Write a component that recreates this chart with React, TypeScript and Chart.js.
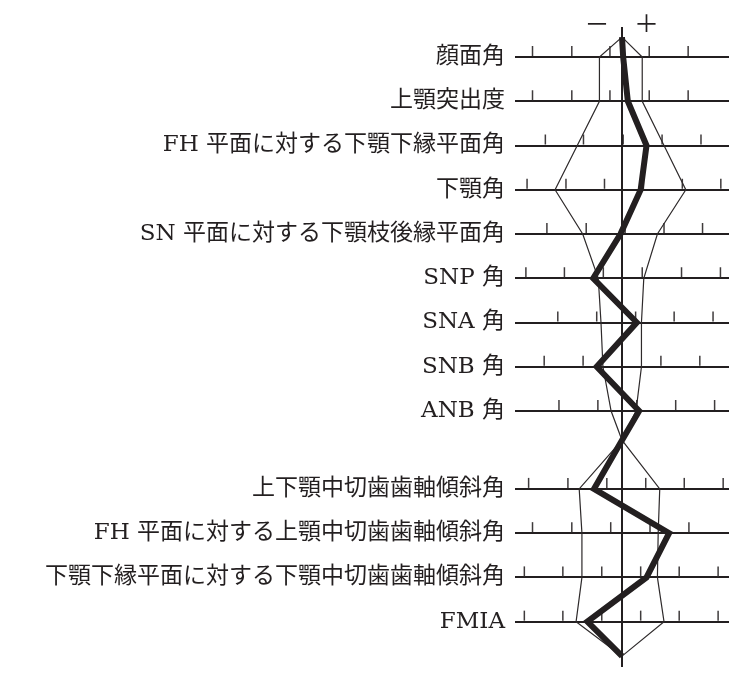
import React, { useEffect, useRef } from 'react';
import { Chart, registerables } from 'chart.js';

Chart.register(...registerables);

// one row per measurement, top to bottom
const rowLabels = [
  '顔面角',
  '上顎突出度',
  'FH 平面に対する下顎下縁平面角',
  '下顎角',
  'SN 平面に対する下顎枝後縁平面角',
  'SNP 角',
  'SNA 角',
  'SNB 角',
  'ANB 角',
  '上下顎中切歯歯軸傾斜角',
  'FH 平面に対する上顎中切歯歯軸傾斜角',
  '下顎下縁平面に対する下顎中切歯歯軸傾斜角',
  'FMIA',
];
const rowPos = [0, 1, 2, 3, 4, 5, 6, 7, 8, 9.76, 10.76, 11.76, 12.76];

// where the polygons close on the mean line (top, between groups, bottom)
const anchorPos = [-0.45, 8.66, 13.54];

// offsets from the mean, in tick units
const sdMinus = [-0.58, -0.58, -1.15, -1.72, -1.01, -0.61, -0.54, -0.49, -0.28, -1.1, -1.03, -1.03, -1.18];
const sdPlus = [0.52, 0.52, 1.08, 1.64, 0.91, 0.56, 0.5, 0.5, 0.36, 0.97, 0.93, 0.91, 1.08];
const patient = [0.03, 0.15, 0.63, 0.48, -0.04, -0.74, 0.38, -0.65, 0.44, -0.72, 1.21, 0.63, -0.89];

// scale marks on each row
const rowTicks = [
  [-2.3, -1.29, -0.31, 0.7, 1.7],
  [-2.3, -1.29, -0.31, 0.7, 1.7],
  [-1.97, -0.99, 0.03, 1.03, 2.03],
  [-2.44, -1.44, -0.45, 0.55, 1.55, 2.54],
  [-1.93, -0.92, 0.08, 1.08, 2.07],
  [-2.47, -1.48, -0.48, 0.52, 1.53, 2.53],
  [-1.65, -0.65, 0.35, 1.34, 2.34],
  [-2.0, -1.0, 0, 1.0, 2.0],
  [-1.62, -0.62, 0.38, 1.38, 2.38],
  [-2.4, -1.39, -0.39, 0.61, 1.6, 2.6],
  [-2.3, -1.29, -0.29, 0.72, 1.72],
  [-2.51, -1.52, -0.52, 0.48, 1.47, 2.47],
  [-2.51, -1.52, -0.52, 0.48, 1.47, 2.47],
];

const signLabels = ['－', '＋'];
const signPos = [-0.64, 0.63];

// the mean line runs a little past both anchors
const meanLine = [-0.68, 13.785];

const X_MIN = -2.75;
const X_MAX = 2.75;
const Y_MIN = -0.565;
const Y_MAX = 13.785;

const INK = '#231f20';
const FONT = '"DejaVu Serif", "Noto Sans CJK JP", serif';

// top anchor, first group, middle anchor, second group, bottom anchor
function polygon(vals: number[]) {
  const pts = [{ x: 0, y: anchorPos[0] }];
  vals.forEach((v, i) => {
    pts.push({ x: v, y: rowPos[i] });
    if (i === 8) pts.push({ x: 0, y: anchorPos[1] });
  });
  pts.push({ x: 0, y: anchorPos[2] });
  return pts;
}

const rowTickPlugin = {
  id: 'rowTicks',
  beforeDatasetsDraw(chart: any) {
    const { ctx, scales } = chart;
    ctx.save();
    ctx.strokeStyle = '#3f3b3c';
    ctx.lineWidth = 1.5;
    rowTicks.forEach((ticks, i) => {
      const y = scales.y.getPixelForValue(rowPos[i]);
      ticks.forEach((t) => {
        const x = scales.x.getPixelForValue(t);
        ctx.beginPath();
        ctx.moveTo(x, y - 1);
        ctx.lineTo(x, y - 11);
        ctx.stroke();
      });
    });
    ctx.restore();
  },
};

const App: React.FC = () => {
  const chartRef = useRef<HTMLCanvasElement>(null);
  const chartInstance = useRef<Chart | null>(null);

  useEffect(() => {
    if (!chartRef.current) return;
    if (chartInstance.current) chartInstance.current.destroy();

    chartInstance.current = new Chart(chartRef.current, {
      type: 'scatter',
      data: {
        datasets: [
          {
            label: 'patient',
            data: polygon(patient),
            showLine: true,
            borderColor: INK,
            borderWidth: 6,
            borderJoinStyle: 'miter',
            pointRadius: 0,
            tension: 0,
          },
          {
            label: 'mean',
            data: meanLine.map((y) => ({ x: 0, y })),
            showLine: true,
            clip: false,
            borderColor: INK,
            borderWidth: 2,
            pointRadius: 0,
          },
          {
            label: '-1SD',
            data: polygon(sdMinus),
            showLine: true,
            borderColor: '#2e2a2b',
            borderWidth: 1.2,
            pointRadius: 0,
            tension: 0,
          },
          {
            label: '+1SD',
            data: polygon(sdPlus),
            showLine: true,
            borderColor: '#2e2a2b',
            borderWidth: 1.2,
            pointRadius: 0,
            tension: 0,
          },
        ],
      },
      options: {
        animation: false,
        responsive: true,
        maintainAspectRatio: false,
        layout: { padding: { left: 0, right: 5, top: 0, bottom: 5 } },
        plugins: {
          legend: { display: false },
          tooltip: { enabled: false },
        },
        scales: {
          x: {
            type: 'linear',
            position: 'top',
            min: X_MIN,
            max: X_MAX,
            grid: { display: false },
            border: { display: false },
            afterBuildTicks: (s: any) => {
              s.ticks = signPos.map((value) => ({ value }));
            },
            afterFit: (s: any) => {
              s.height = 24;
              s.paddingLeft = 0;
              s.paddingRight = 0;
            },
            ticks: {
              autoSkip: false,
              maxRotation: 0,
              padding: -17,
              color: INK,
              font: { family: FONT, size: 25 },
              callback: (_v: any, i: number) => signLabels[i],
            },
          },
          y: {
            type: 'linear',
            reverse: true,
            min: Y_MIN,
            max: Y_MAX,
            grid: { color: INK, lineWidth: 2, drawTicks: false },
            border: { display: false },
            afterBuildTicks: (s: any) => {
              s.ticks = rowPos.map((value) => ({ value }));
            },
            afterFit: (s: any) => {
              s.width = 507;
              s.paddingTop = 0;
              s.paddingBottom = 0;
            },
            ticks: {
              autoSkip: false,
              padding: 10,
              color: INK,
              font: { family: FONT, size: 23 },
              callback: (_v: any, i: number) => rowLabels[i],
            },
          },
        },
      },
      plugins: [rowTickPlugin],
    });

    return () => {
      if (chartInstance.current) {
        chartInstance.current.destroy();
        chartInstance.current = null;
      }
    };
  }, []);

  return (
    <div style={{ position: 'relative', width: 726, height: 664 }}>
      <canvas ref={chartRef}></canvas>
    </div>
  );
};

export default App;
